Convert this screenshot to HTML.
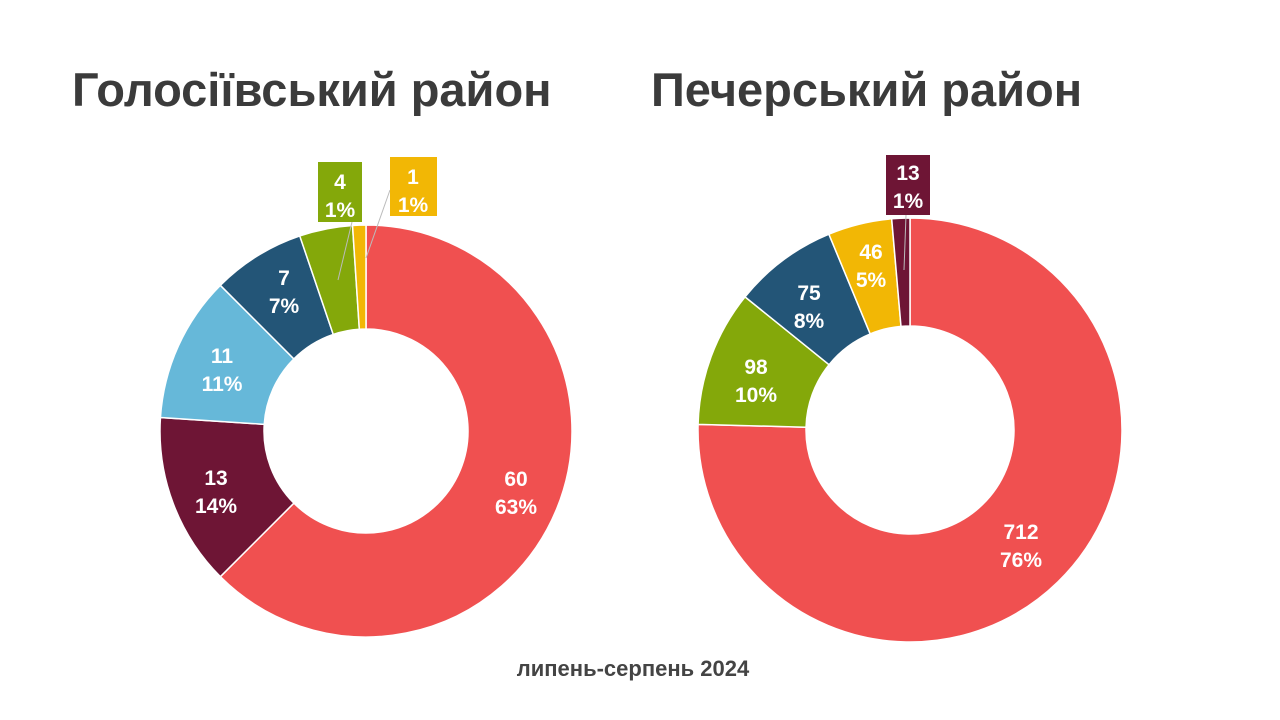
<!DOCTYPE html>
<html><head><meta charset="utf-8"><style>
html,body{margin:0;padding:0;background:#fff;width:1280px;height:720px;overflow:hidden}
svg{display:block}
text{font-family:"Liberation Sans","DejaVu Sans",sans-serif;font-weight:bold}
</style></head><body>
<svg id="s" width="1280" height="720" viewBox="0 0 1280 720">
<text x="72" y="106" font-size="47" fill="#3b3b3b">Голосіївський район</text>
<text x="651" y="106" font-size="47" fill="#3b3b3b">Печерський район</text>
<text x="633" y="676" font-size="22" fill="#444" text-anchor="middle">липень-серпень 2024</text>
<g id="g"></g>
</svg>
<script>
var g=document.getElementById('g');
function donut(cx,cy,R,r,vals,cols){
 var t=vals.reduce(function(a,b){return a+b},0),a=0,h='';
 vals.forEach(function(v,i){
  var a0=a/t*2*Math.PI,a1=(a+v)/t*2*Math.PI;a+=v;
  var L=(a1-a0)>Math.PI?1:0;
  function p(rr,an){return (cx+rr*Math.sin(an)).toFixed(2)+','+(cy-rr*Math.cos(an)).toFixed(2)}
  h+='<path d="M'+p(R,a0)+' A'+R+','+R+' 0 '+L+' 1 '+p(R,a1)+' L'+p(r,a1)+' A'+r+','+r+' 0 '+L+' 0 '+p(r,a0)+' Z" fill="'+cols[i]+'" stroke="#fff" stroke-width="1.5"/>';
 });
 return h;
}
var RED='#F05050',MAR='#6E1535',LB='#66B8D9',DB='#235577',GR='#84A80A',YE='#F2B705';
var h=donut(366,431,206,102,[60,13,11,7,4,1],[RED,MAR,LB,DB,GR,YE]);
h+=donut(910,430,212,104,[712,98,75,46,13],[RED,GR,DB,YE,MAR]);
function lab(x,y,a,b){return '<text x="'+x+'" y="'+y+'" font-size="21" fill="#fff" text-anchor="middle">'+a+'</text><text x="'+x+'" y="'+(y+28)+'" font-size="21" fill="#fff" text-anchor="middle">'+b+'</text>';}
h+='<line x1="338" y1="280" x2="352" y2="222" stroke="#bbb" stroke-width="1"/>';
h+='<line x1="366" y1="258" x2="390" y2="190" stroke="#bbb" stroke-width="1"/>';
h+='<line x1="904" y1="270" x2="906" y2="215" stroke="#bbb" stroke-width="1"/>';
h+='<rect x="318" y="162" width="44" height="60" fill="'+GR+'"/>';
h+='<rect x="390" y="157" width="47" height="59" fill="'+YE+'"/>';
h+='<rect x="886" y="155" width="44" height="60" fill="'+MAR+'"/>';
h+=lab(516,486,'60','63%')+lab(216,485,'13','14%')+lab(222,363,'11','11%')+lab(284,285,'7','7%')+lab(340,189,'4','1%')+lab(413,184,'1','1%');
h+=lab(1021,539,'712','76%')+lab(756,374,'98','10%')+lab(809,300,'75','8%')+lab(871,259,'46','5%')+lab(908,180,'13','1%');
g.innerHTML=h;
</script>
</body></html>
